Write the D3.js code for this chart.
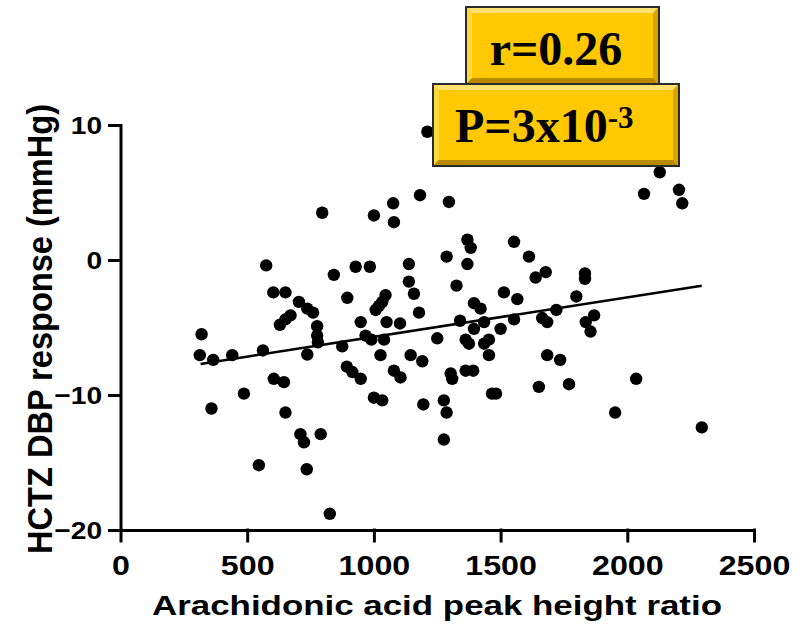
<!DOCTYPE html>
<html><head><meta charset="utf-8">
<script src="https://cdn.jsdelivr.net/npm/d3@7"></script>
<style>body{margin:0;background:#fff}svg{display:block}</style>
</head><body>
<svg id="c" width="804" height="625"></svg>
<script>
const xVals = [313,320,359,366,441,487,546,562,575,603,651,629,651,671,704,737,760,776,776,779,737,605,645,651,710,724,735,790,796,
826,842,875,895,893,915,948,928,948,967,990,984,1000,1076,1079,1182,1138,1138,1158,1178,1046,1033,1020,1007,1050,1103,1040,1026,1145,1191,1079,1105,1000,1033,1195,
1211,1296,1287,1369,1382,1369,1553,1612,1678,1638,1326,1513,1566,1395,1421,1340,1435,1553,1395,1500,1664,1684,1720,1250,1362,1375,1454,1435,1454,1684,1735,1303,1309,1362,1392,1466,1482,1651,1276,1287,1276,
1833,1833,1799,1869,1836,1855,1770,2035,1952,2294,2128,2066,2204,2217];
const yVals = [-7.05,-5.5,-11.0,-7.4,-7.05,-9.9,-15.2,-6.7,-0.4,-2.4,-2.4,-4.8,-4.4,-4.1,-3.1,-3.6,-3.9,-4.9,-5.6,-6.1,-7.0,-8.8,-9.05,-11.3,-12.9,-13.5,-15.5,-12.9,3.5,
-18.8,-1.1,-6.4,-2.8,-7.9,-8.3,-8.8,-0.5,-4.6,-5.6,-5.9,-0.5,3.3,4.2,2.8,4.8,-0.3,-1.6,-2.5,-3.9,-2.6,-3.1,-3.4,-3.7,-4.6,-4.7,-5.9,-7.05,-7.05,-7.5,-8.2,-8.7,-10.2,-10.4,-10.7,
9.5,4.3,0.25,1.5,0.9,-0.3,1.35,0.25,-0.9,-1.3,-1.9,-2.4,-2.9,-3.2,-3.6,-4.5,-4.6,-4.4,-5.1,-5.1,-4.3,-4.6,-3.7,-5.8,-5.9,-6.2,-5.9,-6.2,-7.05,-7.05,-7.4,-8.4,-8.8,-8.2,-8.2,-9.9,-9.9,-9.4,-10.4,-11.3,-13.3,
-1.0,-1.4,-2.7,-4.1,-4.6,-5.3,-9.2,-8.8,-11.3,-12.4,6.5,4.9,5.2,4.2];
const fitX = [316, 2294];
const fitY = [-7.7, -1.9];
const xTicks = [0,500,1000,1500,2000,2500];
const yTicks = [-20,-10,0,10];
const xTitle = "Arachidonic acid peak height ratio";
const yTitle = "HCTZ DBP response (mmHg)";
const rLabel = "r=0.26";
const pMain = "P=3x10";
const pExp = "-3";

const svg = d3.select("#c");
const x = d3.scaleLinear().domain([0,2500]).range([120.5,754]);
const y = d3.scaleLinear().domain([-20,10]).range([530,125]);
const sansF = "Arial, 'Liberation Sans', sans-serif";

// axes
const xa = svg.append("g").attr("transform","translate(0,530)")
  .call(d3.axisBottom(x).tickValues(xTicks).tickSize(11).tickSizeOuter(0).tickFormat(d3.format("d")));
const ya = svg.append("g").attr("transform","translate(120.5,0)")
  .call(d3.axisLeft(y).tickValues(yTicks).tickSize(11).tickSizeOuter(0).tickFormat(d3.format("d")));
[xa,ya].forEach(g=>{
  g.selectAll("path.domain,line").attr("stroke","#000").attr("stroke-width",3).attr("stroke-linecap","square");
  g.selectAll("text").attr("fill","#000").attr("font-family",sansF).attr("font-weight","bold");
});
xa.selectAll("text").attr("font-size",28).attr("y",45).attr("dy",0).attr("transform","scale(1.15,1)");
ya.selectAll("text").attr("font-size",24.5).attr("x",-16).attr("dy","0.36em").attr("transform","scale(1.15,1)");

// titles
svg.append("text").attr("x",437).attr("y",615).attr("text-anchor","middle")
  .attr("font-family",sansF).attr("font-weight","bold").attr("font-size",28)
  .attr("textLength",570).attr("lengthAdjust","spacingAndGlyphs").text(xTitle);
svg.append("text").attr("transform","translate(52,329) scale(1.12,1) rotate(-90)")
  .attr("text-anchor","middle").attr("font-family",sansF).attr("font-weight","bold").attr("font-size",31)
  .attr("textLength",450).attr("lengthAdjust","spacingAndGlyphs").text(yTitle);

// fit line
svg.append("line").attr("x1",x(fitX[0])).attr("y1",y(fitY[0])).attr("x2",x(fitX[1])).attr("y2",y(fitY[1]))
  .attr("stroke","#000").attr("stroke-width",2.5);

// points
svg.append("g").selectAll("circle").data(xVals.map((v,i)=>[v,yVals[i]])).join("circle")
  .attr("cx",d=>x(d[0])).attr("cy",d=>y(d[1])).attr("r",6.2).attr("fill","#000");

// bevel boxes
function bevelBox(bx,by,bw,bh){
  const g = svg.append("g");
  const b = 6;
  g.append("rect").attr("x",bx).attr("y",by).attr("width",bw).attr("height",bh).attr("fill","#FFC800");
  const X0=bx,Y0=by,X1=bx+bw,Y1=by+bh;
  const poly=(pts,c)=>g.append("polygon").attr("points",pts.map(p=>p.join(",")).join(" ")).attr("fill",c);
  poly([[X0,Y0],[X1,Y0],[X1-b,Y0+b],[X0+b,Y0+b]],"#FFE270");
  poly([[X0,Y0],[X0+b,Y0+b],[X0+b,Y1-b],[X0,Y1]],"#FFD83A");
  poly([[X1,Y0],[X1,Y1],[X1-b,Y1-b],[X1-b,Y0+b]],"#D9A300");
  poly([[X0,Y1],[X1,Y1],[X1-b,Y1-b],[X0+b,Y1-b]],"#B98A00");
  g.append("rect").attr("x",bx).attr("y",by).attr("width",bw).attr("height",bh)
    .attr("fill","none").attr("stroke","#2b2b2b").attr("stroke-width",2);
  return g;
}
const serif = "'Times New Roman','Liberation Serif',serif";
bevelBox(466,7,193,77);
svg.append("text").attr("x",556).attr("y",65).attr("text-anchor","middle")
  .attr("font-family",serif).attr("font-weight","bold").attr("font-size",48).text(rLabel);
bevelBox(433,84,246,82);
const pt = svg.append("text").attr("x",455).attr("y",142)
  .attr("font-family",serif).attr("font-weight","bold").attr("font-size",48);
pt.append("tspan").text(pMain);
pt.append("tspan").attr("dy",-14).attr("font-size",31).text(pExp);
</script>
</body></html>
